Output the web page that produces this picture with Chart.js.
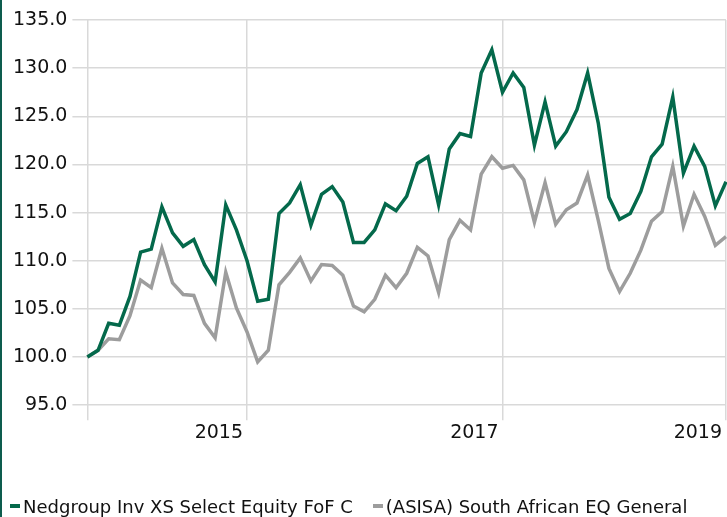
<!DOCTYPE html>
<html>
<head>
<meta charset="utf-8">
<script src="https://cdn.jsdelivr.net/npm/chart.js@4/dist/chart.umd.min.js"></script>
<style>
    html, body { margin: 0; padding: 0; background: #fff; }
    #wrap {
        position: relative;
        width: 727px;
        height: 517px;
        box-sizing: border-box;
        border-left: 2px solid #0d5c4d;
    }
    #chartCanvas { display: block; }
    #legend {
        position: absolute;
        left: 8px;
        top: 496px;
        height: 20px;
        display: flex;
        align-items: center;
        font-family: 'DejaVu Sans', sans-serif;
        font-size: 18px;
        color: #111;
        white-space: nowrap;
    }
    .item { display: flex; align-items: center; margin-right: 20px; }
    .swatch { width: 10px; height: 4px; margin-right: 3px; }
</style>
</head>
<body>
<div id="wrap">
    <canvas id="chartCanvas" width="725" height="517"></canvas>
    <div id="legend"></div>
</div>
<script>
// Monthly index values, rebased to 100
const fundValues = [
    100.0, 100.7, 103.5, 103.3, 106.3, 110.9, 111.2, 115.6, 112.9, 111.5,
    112.2, 109.6, 107.8, 115.8, 113.2, 110.0, 105.8, 106.0, 114.9, 116.0,
    117.9, 113.7, 116.9, 117.7, 116.1, 111.9, 111.9, 113.2, 115.9, 115.2,
    116.7, 120.1, 120.8, 115.8, 121.6, 123.2, 122.9, 129.5, 131.9, 127.5,
    129.5, 128.0, 122.0, 126.5, 121.9, 123.4, 125.7, 129.5, 124.3, 116.6,
    114.3, 114.9, 117.2, 120.8, 122.1, 127.0, 119.1, 121.9, 119.8, 115.7,
    118.2
];
const sectorValues = [
    100.0, 100.7, 101.9, 101.8, 104.3, 108.0, 107.2, 111.3, 107.7, 106.5,
    106.4, 103.5, 102.0, 108.8, 105.1, 102.6, 99.5, 100.7, 107.5, 108.8,
    110.3, 107.9, 109.6, 109.5, 108.5, 105.3, 104.7, 106.0, 108.5, 107.2,
    108.7, 111.4, 110.5, 106.7, 112.2, 114.2, 113.2, 119.0, 120.8, 119.6,
    119.9, 118.4, 114.0, 118.1, 113.8, 115.3, 116.0, 118.9, 114.2, 109.2,
    106.8, 108.7, 111.1, 114.1, 115.1, 119.8, 113.6, 116.9, 114.6, 111.6,
    112.5
];
const seriesNames = ['Nedgroup Inv XS Select Equity FoF C', '(ASISA) South African EQ General'];
const seriesColors = ['#04694b', '#9d9d9d'];

// x-axis: gridlines at these month positions, labels where given
const gridPositions = [0, 15, 39, 60];
const tickLabels = { 15: '2015', 39: '2017', 60: '2019' };

const yMin = 95;
const yMax = 135;
const yStep = 5;

const labels = fundValues.map((v, i) => i);
const gridColor = '#d9d9d9';

// Legend (html, below the plot)
const legendEl = document.getElementById('legend');
seriesNames.forEach((name, i) => {
    const item = document.createElement('span');
    item.className = 'item';
    item.innerHTML = `<span class="swatch" style="background:${seriesColors[i]}"></span><span>${name}</span>`;
    legendEl.appendChild(item);
});

const ctx = document.getElementById('chartCanvas').getContext('2d');
new Chart(ctx, {
    type: 'line',
    data: {
        labels: labels,
        datasets: seriesNames.map((name, i) => ({
            label: name,
            data: i === 0 ? fundValues : sectorValues,
            borderColor: seriesColors[i],
            backgroundColor: seriesColors[i],
            borderWidth: 3.5,
            pointRadius: 0,
            tension: 0
        }))
    },
    options: {
        responsive: false,
        animation: false,
        layout: {
            padding: { left: 6, right: 1, top: 20, bottom: 72 }
        },
        plugins: {
            tooltip: { enabled: false },
            legend: { display: false }
        },
        scales: {
            x: {
                border: { display: false },
                grid: {
                    color: (c) => gridPositions.includes(c.index) ? gridColor : 'rgba(0,0,0,0)',
                    lineWidth: 1.5,
                    tickLength: 15
                },
                ticks: {
                    autoSkip: false,
                    maxRotation: 0,
                    align: 'end',
                    labelOffset: -4,
                    padding: 1,
                    color: '#111',
                    font: { family: "'DejaVu Sans'", size: 19 },
                    callback: (value, index) => tickLabels[index] || ''
                }
            },
            y: {
                min: yMin,
                max: yMax,
                border: { display: false },
                grid: {
                    color: gridColor,
                    lineWidth: 1.5,
                    tickLength: 15
                },
                ticks: {
                    stepSize: yStep,
                    padding: 5,
                    color: '#111',
                    font: { family: "'DejaVu Sans'", size: 19 },
                    callback: (value) => value.toFixed(1)
                }
            }
        }
    }
});
</script>
</body>
</html>
